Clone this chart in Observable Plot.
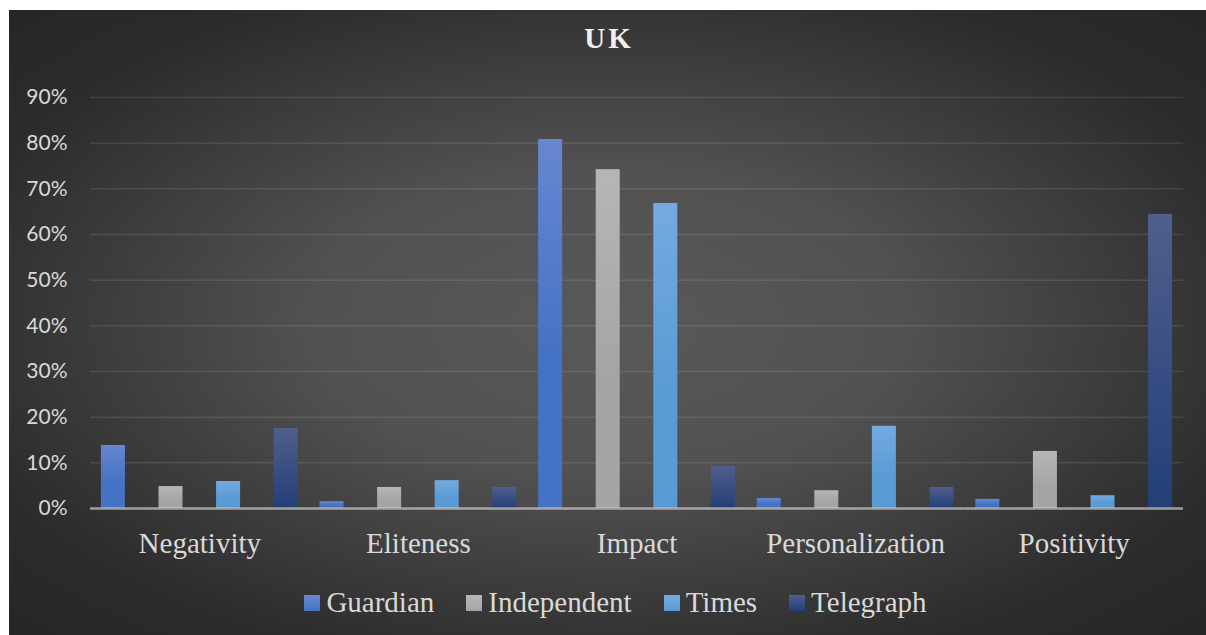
<!DOCTYPE html>
<html><head><meta charset="utf-8">
<script src="https://cdn.jsdelivr.net/npm/d3@7"></script>
<script src="https://cdn.jsdelivr.net/npm/@observablehq/plot@0.6"></script>
<style>
html,body{margin:0;padding:0;background:#fff;}
#chart{position:absolute;left:9px;top:10px;width:1197px;height:625px;overflow:hidden;
 background:radial-gradient(ellipse farthest-corner at 50% 50%, #595959 0%, #515151 35%, #2c2c2c 80%, #262626 100%);}
#title{position:absolute;left:0;width:100%;top:14px;text-align:center;font-family:"Liberation Serif",serif;font-weight:bold;font-size:29px;line-height:29px;color:#f0f0f0;letter-spacing:3px;padding-left:3px;box-sizing:border-box;}
#plot{position:absolute;left:0;top:60px;}
#legend{position:absolute;left:0;width:100%;top:578px;height:29px;display:flex;justify-content:center;align-items:center;padding-left:16px;box-sizing:border-box;font-family:"Liberation Serif",serif;font-size:29px;line-height:29px;color:#d9d9d9;}
.item{display:flex;align-items:center;margin:0 16px;}
.sw{width:16px;height:16px;margin-right:6px;}
</style></head>
<body>
<div id="chart">
  <div id="title">UK</div>
  <div id="plot"></div>
  <div id="legend"></div>
</div>
<script>
const categories = ["Negativity", "Eliteness", "Impact", "Personalization", "Positivity"];
const series = ["Guardian", "Independent", "Times", "Telegraph"];
const guardian    = [0.138, 0.015, 0.808, 0.022, 0.020];
const independent = [0.048, 0.046, 0.742, 0.039, 0.125];
const times       = [0.059, 0.061, 0.668, 0.180, 0.028];
const telegraph   = [0.175, 0.046, 0.092, 0.046, 0.644];
const yTicks = [0, 0.1, 0.2, 0.3, 0.4, 0.5, 0.6, 0.7, 0.8, 0.9];

const seriesValues = [guardian, independent, times, telegraph];
const topColors    = ["#6787d0", "#b6b6b6", "#74aae0", "#505f8c"];
const baseColors   = ["#4472c4", "#a5a5a5", "#5b9bd5", "#233f78"];
const baseStop     = ["60%", "60%", "60%", "100%"];
const gradIds = series.map((s, i) => "grad-" + i);

const rows = categories.flatMap((c, i) => series.map((s, j) => ({category: c, series: s, value: seriesValues[j][i]})));

const svg = Plot.plot({
  width: 1197, height: 500,
  marginLeft: 81, marginRight: 23, marginTop: 27, marginBottom: 62,
  style: {background: "transparent", overflow: "visible"},
  fx: {domain: categories, padding: 0, round: false, label: null},
  x: {domain: series, paddingInner: 0.583, paddingOuter: 0.19, round: false, axis: null},
  y: {domain: [0, 0.9], axis: null},
  color: {domain: series, range: gradIds.map(id => `url(#${id})`)},
  marks: [
    Plot.gridY(yTicks, {stroke: "#ffffff", strokeOpacity: 0.1, strokeWidth: 1.5}),
    Plot.axisY(yTicks, {anchor: "left", tickFormat: d3.format(".0%"), tickSize: 0, tickPadding: 23,
      fontSize: 21, fontFamily: "Lato", fill: "#d9d9d9", label: null}),
    Plot.barY(rows, {fx: "category", x: "series", y: "value", fill: "series"}),
    Plot.ruleY([0], {stroke: "#c8c8c8", strokeOpacity: 0.7, strokeWidth: 2.5}),
    Plot.axisFx({anchor: "bottom", tickSize: 0, tickPadding: 24, fontSize: 29,
      fontFamily: "Liberation Serif", fill: "#d9d9d9", label: null})
  ]
});

const defs = d3.select(svg).insert("defs", ":first-child");
series.forEach((s, i) => {
  const lg = defs.append("linearGradient").attr("id", gradIds[i])
    .attr("x1", 0).attr("y1", 0).attr("x2", 0).attr("y2", 1);
  lg.append("stop").attr("offset", "0%").attr("stop-color", topColors[i]);
  lg.append("stop").attr("offset", baseStop[i]).attr("stop-color", baseColors[i]);
  lg.append("stop").attr("offset", "100%").attr("stop-color", baseColors[i]);
});
document.getElementById("plot").appendChild(svg);

const legend = d3.select("#legend");
series.forEach((s, i) => {
  const it = legend.append("div").attr("class", "item");
  it.append("div").attr("class", "sw").style("background", `linear-gradient(${topColors[i]}, ${baseColors[i]})`);
  it.append("span").text(s);
});
</script>
</body></html>
